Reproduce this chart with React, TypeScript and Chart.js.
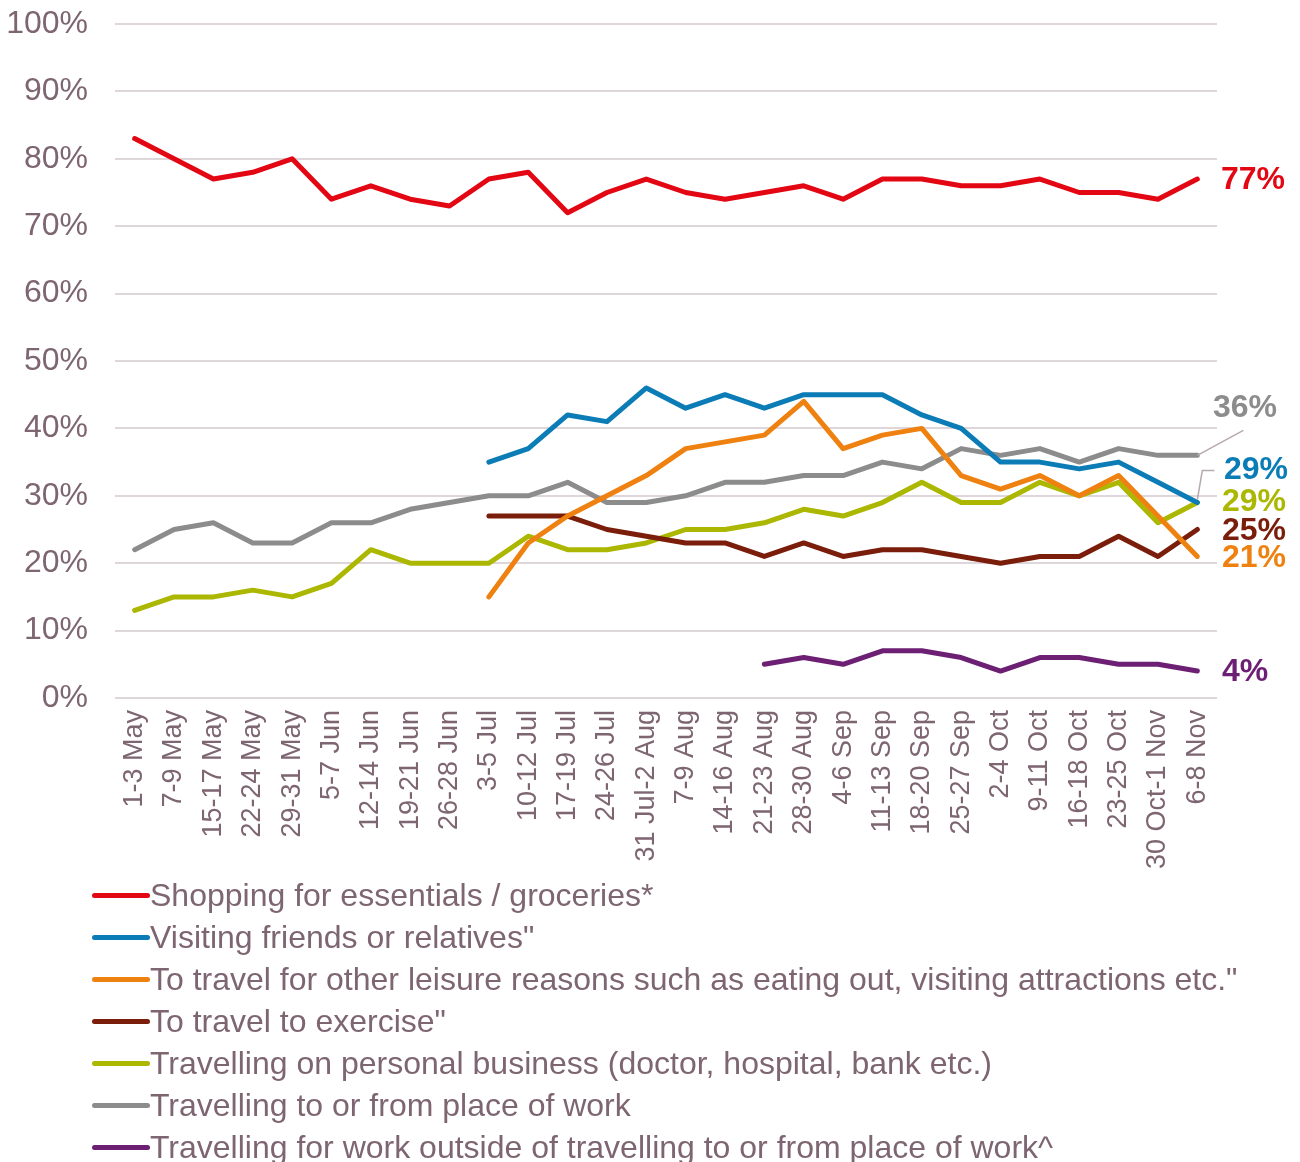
import React, { useEffect, useRef } from "react";
import { Chart, registerables } from "chart.js";

Chart.register(...registerables);

const CATEGORIES = [
  "1-3 May", "7-9 May", "15-17 May", "22-24 May", "29-31 May", "5-7 Jun",
  "12-14 Jun", "19-21 Jun", "26-28 Jun", "3-5 Jul", "10-12 Jul", "17-19 Jul",
  "24-26 Jul", "31 Jul-2 Aug", "7-9 Aug", "14-16 Aug", "21-23 Aug", "28-30 Aug",
  "4-6 Sep", "11-13 Sep", "18-20 Sep", "25-27 Sep", "2-4 Oct", "9-11 Oct",
  "16-18 Oct", "23-25 Oct", "30 Oct-1 Nov", "6-8 Nov",
];

const SHOPPING = [83, 80, 77, 78, 80, 74, 76, 74, 73, 77, 78, 72, 75, 77, 75, 74, 75, 76, 74, 77, 77, 76, 76, 77, 75, 75, 74, 77];
const VISITING = [null, null, null, null, null, null, null, null, null, 35, 37, 42, 41, 46, 43, 45, 43, 45, 45, 45, 42, 40, 35, 35, 34, 35, 32, 29];
const LEISURE = [null, null, null, null, null, null, null, null, null, 15, 23, 27, 30, 33, 37, 38, 39, 44, 37, 39, 40, 33, 31, 33, 30, 33, 27, 21];
const EXERCISE = [null, null, null, null, null, null, null, null, null, 27, 27, 27, 25, 24, 23, 23, 21, 23, 21, 22, 22, 21, 20, 21, 21, 24, 21, 25];
const PERSONAL = [13, 15, 15, 16, 15, 17, 22, 20, 20, 20, 24, 22, 22, 23, 25, 25, 26, 28, 27, 29, 32, 29, 29, 32, 30, 32, 26, 29];
const WORK = [22, 25, 26, 23, 23, 26, 26, 28, 29, 30, 30, 32, 29, 29, 30, 32, 32, 33, 33, 35, 34, 37, 36, 37, 35, 37, 36, 36];
const WORK_OUTSIDE = [null, null, null, null, null, null, null, null, null, null, null, null, null, null, null, null, 5, 6, 5, 7, 7, 6, 4, 6, 6, 5, 5, 4];

const Y_TICKS = [0, 10, 20, 30, 40, 50, 60, 70, 80, 90, 100];

const SERIES_NAMES = [
  "Shopping for essentials / groceries*",
  "Visiting friends or relatives\"",
  "To travel for other leisure reasons such as eating out, visiting attractions etc.\"",
  "To travel to exercise\"",
  "Travelling on personal business (doctor, hospital, bank etc.)",
  "Travelling to or from place of work",
  "Travelling for work outside of travelling to or from place of work^",
];
const SERIES_DATA = [SHOPPING, VISITING, LEISURE, EXERCISE, PERSONAL, WORK, WORK_OUTSIDE];
const SERIES_COLORS = ["#E30613", "#0B7CB5", "#EE8110", "#7A1E0B", "#ABB700", "#8C8C8C", "#6C1F73"];

// end-label placement (style only): [dx from chart right, dy from last point]
const END_LABEL_OFFSETS = [
  [4, 1],
  [7, -32],
  [5, 2],
  [5, 2],
  [5, 0],
  [-4, -47],
  [5, 1],
];

const TEXT_COLOR = "#7D6571";
const FONT = "'Liberation Sans', Arial, sans-serif";

const endLabelPlugin = {
  id: "endLabels",
  afterDatasetsDraw(chart: any) {
    const ctx = chart.ctx;
    const right = chart.chartArea.right;
    ctx.save();
    chart.data.datasets.forEach((ds: any, i: number) => {
      const meta = chart.getDatasetMeta(i);
      const pt = meta.data[meta.data.length - 1];
      const val = ds.data[ds.data.length - 1];
      const [dx, dy] = END_LABEL_OFFSETS[i];
      const lx = right + dx;
      const ly = pt.y + dy;
      ctx.strokeStyle = "#B5A8AE";
      ctx.lineWidth = 1.5;
      if (i === 5) {
        ctx.beginPath();
        ctx.moveTo(pt.x, pt.y);
        ctx.lineTo(pt.x + 46, pt.y - 25);
        ctx.stroke();
      }
      if (i === 1) {
        ctx.beginPath();
        ctx.moveTo(pt.x, pt.y - 3);
        ctx.lineTo(pt.x + 5, ly);
        ctx.lineTo(pt.x + 17, ly);
        ctx.stroke();
      }
      ctx.fillStyle = SERIES_COLORS[i];
      ctx.font = `bold 32px ${FONT}`;
      ctx.textAlign = "left";
      ctx.textBaseline = "middle";
      ctx.fillText(`${val}%`, lx, ly);
    });
    ctx.restore();
  },
};

export default function App() {
  const canvasRef = useRef<HTMLCanvasElement | null>(null);

  useEffect(() => {
    if (!canvasRef.current) return;
    Chart.defaults.font.family = FONT;
    const chart = new Chart(canvasRef.current, {
      type: "line",
      data: {
        labels: CATEGORIES,
        datasets: SERIES_NAMES.map((name, i) => ({
          label: name,
          data: SERIES_DATA[i],
          borderColor: SERIES_COLORS[i],
          backgroundColor: SERIES_COLORS[i],
          borderWidth: 5,
          pointRadius: 0,
          borderCapStyle: "round",
          borderJoinStyle: "round",
          tension: 0,
        })),
      },
      options: {
        responsive: false,
        animation: false,
        layout: { padding: { top: 24, right: 83, left: 5, bottom: 10 } },
        plugins: {
          legend: { display: false },
          tooltip: { enabled: false },
        },
        scales: {
          x: {
            offset: true,
            grid: { display: false, drawTicks: false },
            border: { display: false },
            ticks: {
              autoSkip: false,
              minRotation: 90,
              maxRotation: 90,
              padding: 12,
              color: TEXT_COLOR,
              font: { size: 27 },
            },
            afterFit: (s: any) => {
              s.height = 172;
              s.paddingLeft = 0;
              s.paddingRight = 0;
            },
          },
          y: {
            min: 0,
            max: 100,
            afterBuildTicks: (s: any) => {
              s.ticks = Y_TICKS.map((v) => ({ value: v }));
            },
            ticks: {
              padding: 27,
              color: TEXT_COLOR,
              font: { size: 32 },
              callback: (v: any) => `${v}%`,
            },
            grid: { color: "#DED6DA", lineWidth: 2, drawTicks: false },
            border: { display: false },
            afterFit: (s: any) => {
              s.width = 110;
              s.paddingTop = 0;
              s.paddingBottom = 0;
            },
          },
        },
      },
      plugins: [endLabelPlugin],
    } as any);
    return () => chart.destroy();
  }, []);

  return (
    <div style={{ position: "absolute", left: 0, top: 0, width: 1300, height: 1162, background: "#fff" }}>
      <canvas ref={canvasRef} width={1300} height={880} style={{ display: "block" }} />
      <div style={{ position: "absolute", left: 92, top: 874 }}>
        {SERIES_NAMES.map((name, i) => (
          <div
            key={name}
            style={{
              display: "flex",
              alignItems: "center",
              height: 42,
              whiteSpace: "nowrap",
              fontFamily: FONT,
              fontSize: 32,
              color: TEXT_COLOR,
            }}
          >
            <span
              style={{
                display: "inline-block",
                width: 58,
                height: 5,
                borderRadius: 3,
                background: SERIES_COLORS[i],
              }}
            />
            <span>{name}</span>
          </div>
        ))}
      </div>
    </div>
  );
}
